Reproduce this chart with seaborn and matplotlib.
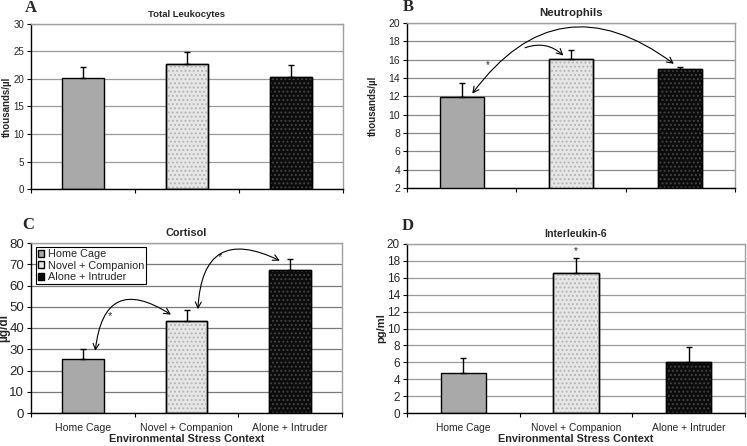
import matplotlib
matplotlib.use("Agg")
import matplotlib.pyplot as plt
from matplotlib.patches import Rectangle
import seaborn as sns
import pandas as pd

categories = ["Home Cage", "Novel + Companion", "Alone + Intruder"]
leuko_vals = [20.1, 22.8, 20.4]
leuko_err = [2.1, 2.1, 2.2]
neut_vals = [11.9, 16.1, 15.0]
neut_err = [1.6, 1.0, 0.2]
cort_vals = [25.5, 43.5, 67.5]
cort_err = [4.8, 5.0, 5.0]
il6_vals = [4.7, 16.6, 6.0]
il6_err = [1.8, 1.8, 1.8]

sns.set_theme(style="white")
plt.rcParams['font.family'] = ['Liberation Sans', 'DejaVu Sans']
plt.rcParams['hatch.linewidth'] = 0.9

face = {"Home Cage": "#a9a9a9", "Novel + Companion": "#e6e6e6", "Alone + Intruder": "#0c0c0c"}
dots = {"Home Cage": None, "Novel + Companion": "#b4b4b4", "Alone + Intruder": "#444444"}

fig = plt.figure(figsize=(7.47, 4.46), dpi=100)
W, H = 747, 446

def axes_px(l, t, r, b):
    return fig.add_axes([l / W, (H - b) / H, (r - l) / W, (b - t) / H])

def panel(ax, vals, errs, ylim, yticks, title, ylabel, tsize, ysize, ticksize,
          gridcol, ylx, xlabels=False, xlsize=8, xlabsize=8):
    df = pd.DataFrame({"cat": categories, "val": vals})
    sns.barplot(data=df, x="cat", y="val", hue="cat", order=categories,
                hue_order=categories, palette=face, legend=False, width=0.4,
                edgecolor="black", linewidth=1.0, ax=ax, zorder=2, errorbar=None)
    for p, c in zip(ax.patches, categories):
        if dots[c]:
            ax.add_patch(Rectangle(p.get_xy(), p.get_width(), p.get_height(),
                                   facecolor="none", edgecolor=dots[c], hatch="....",
                                   linewidth=0, zorder=2.5))
            ax.add_patch(Rectangle(p.get_xy(), p.get_width(), p.get_height(),
                                   facecolor="none", edgecolor="black",
                                   linewidth=1.0, zorder=2.6))
    ax.errorbar(range(3), vals, yerr=[[0, 0, 0], errs], fmt="none", ecolor="black",
                elinewidth=1.0, capsize=2, capthick=1.0, zorder=3)
    ax.set_ylim(*ylim)
    ax.set_xlim(-0.5, 2.5)
    ax.set_yticks(yticks)
    ax.yaxis.grid(True, color=gridcol, linewidth=0.9)
    ax.set_axisbelow(True)
    for s in ["top", "right"]:
        ax.spines[s].set_color("#a0a0a0")
        ax.spines[s].set_linewidth(1.0)
    for s in ["left", "bottom"]:
        ax.spines[s].set_color("black")
        ax.spines[s].set_linewidth(1.0)
    ax.tick_params(axis="y", direction="out", length=3, width=0.8, color="black",
                   labelsize=ticksize, pad=2, left=True)
    ax.set_xticks([-0.5, 0.5, 1.5, 2.5], minor=True)
    ax.tick_params(axis="x", which="minor", direction="out", length=3, width=0.8,
                   color="black", bottom=True)
    ax.tick_params(axis="x", which="major", length=0, pad=7)
    if xlabels:
        ax.set_xticks(range(3))
        ax.set_xticklabels(categories, fontsize=xlsize)
        ax.set_xlabel("Environmental Stress Context", fontsize=xlabsize,
                      fontweight="bold", labelpad=1)
    else:
        ax.set_xticklabels([])
        ax.set_xlabel("")
    ax.set_title(title, fontsize=tsize, fontweight="bold", pad=5)
    ax.set_ylabel(ylabel, fontsize=ysize, fontweight="bold")
    ax.yaxis.set_label_coords(ylx, 0.5)

def arc(ax, p1, p2, rad, style="<->"):
    ax.annotate("", xy=p2, xytext=p1,
                arrowprops=dict(arrowstyle=style + ",head_length=0.35,head_width=0.18",
                                connectionstyle="arc3,rad=%s" % rad, color="black",
                                lw=0.8, shrinkA=0, shrinkB=0), zorder=5)

axA = axes_px(31, 24, 343, 189)
panel(axA, leuko_vals, leuko_err, (0, 30), range(0, 31, 5), "Total Leukocytes",
      "thousands/µl", 6.8, 7, 7, "#9a9a9a", -0.06)

axB = axes_px(407, 23, 735, 188)
panel(axB, neut_vals, neut_err, (2, 20), range(2, 21, 2), "Neutrophils",
      "thousands/µl", 8.2, 7, 7.5, "#8a8a8a", -0.088)
arc(axB, (0.097, 12.3), (1.94, 15.55), -0.5)
arc(axB, (0.58, 17.3), (0.93, 16.45), -0.3, "->")
axB.text(0.24, 15.4, "*", fontsize=7, ha="center", va="center")

axC = axes_px(31, 243, 342, 413)
panel(axC, cort_vals, cort_err, (0, 80), range(0, 81, 10), "Cortisol",
      "µg/dl", 7.8, 8.5, 9.5, "#7a7a7a", -0.066, xlabels=True, xlsize=7.6, xlabsize=7.8)
arc(axC, (0.12, 29.3), (0.85, 46.3), -0.8)
arc(axC, (1.11, 48.9), (1.9, 71.7), -0.75)
axC.text(0.26, 45.5, "*", fontsize=8, ha="center", va="center")
axC.text(1.32, 73.5, "*", fontsize=8, ha="center", va="center")
leg = axC.legend(handles=list(axC.patches[:3]), labels=categories, loc="upper left",
                 bbox_to_anchor=(0.015, 0.975), frameon=True,
                 prop={"size": 7.8},
                 fancybox=False, edgecolor="black", framealpha=1, handlelength=0.6,
                 handleheight=0.6, handletextpad=0.3, labelspacing=0.12,
                 borderpad=0.2, borderaxespad=0)
leg.get_frame().set_linewidth(0.8)

axD = axes_px(407, 244, 745, 413)
panel(axD, il6_vals, il6_err, (0, 20), range(0, 21, 2), "Interleukin-6",
      "pg/ml", 7.6, 8, 8.5, "#9a9a9a", -0.062, xlabels=True, xlsize=7.4, xlabsize=7.8)
axD.text(1.0, 19.2, "*", fontsize=7, ha="center", va="center")

for lab, x, y in [("A", 31, 8), ("B", 408, 7), ("C", 28, 225), ("D", 408, 226)]:
    fig.text(x / W, 1 - y / H, lab, fontsize=12, fontweight="bold",
             family=["Liberation Serif", "DejaVu Serif"], ha="center", va="center")

fig.savefig("out.png", dpi=100)
